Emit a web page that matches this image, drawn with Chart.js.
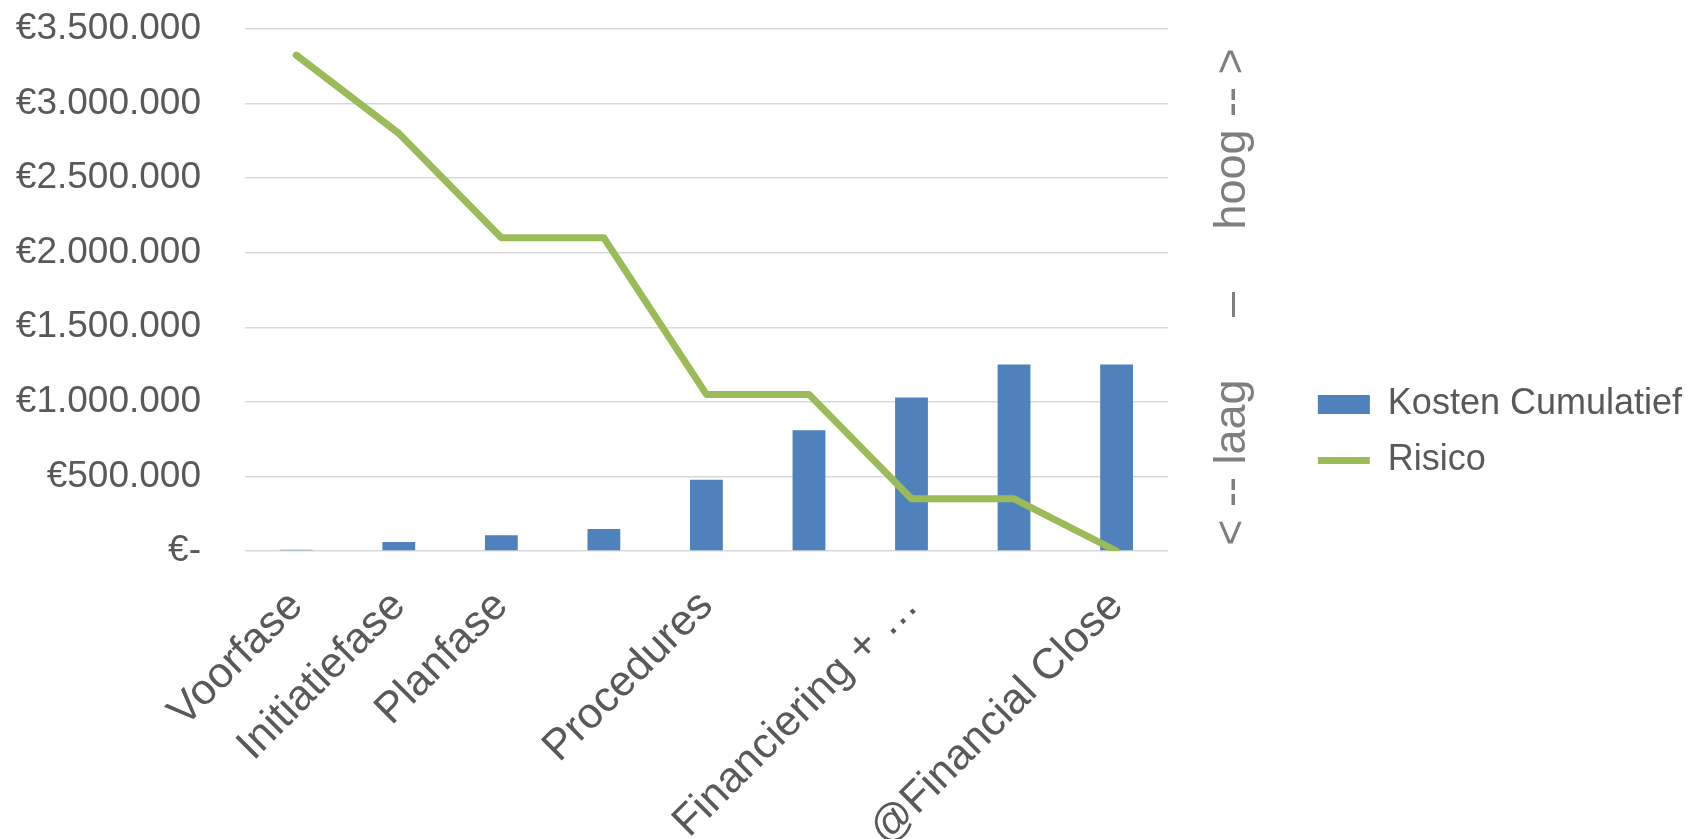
<!DOCTYPE html>
<html>
<head>
<meta charset="utf-8">
<script src="https://cdn.jsdelivr.net/npm/chart.js@4.4.1/dist/chart.umd.min.js"></script>
<style>
  html, body { margin: 0; padding: 0; background: #fff; }
  #wrap { width: 1692px; height: 839px; }
</style>
</head>
<body>
<div id="wrap"><canvas id="chart"></canvas></div>
<script>
const phases = ['Voorfase', 'Initiatiefase', 'Planfase', '', 'Procedures', '', 'Financiering + …', '', '@Financial Close'];
const kostenCumulatief = [8000, 60000, 105000, 148000, 478000, 810000, 1030000, 1250000, 1250000];
const risico = [95, 80, 60, 60, 30, 30, 10, 10, 0];
const risicoTitle = '< -- laag     –     hoog -- >';

const FONT = "'Liberation Sans', Arial, sans-serif";
const textColor = '#595959';

function euro(v) {
    if (v === 0) return '€-';
    return '€' + String(v).replace(/\B(?=(\d{3})+(?!\d))/g, '.');
}

// vertical title right of the plot, reading bottom to top
const rightTitle = {
    id: 'rightTitle',
    afterDraw(chart) {
        const a = chart.chartArea, ctx = chart.ctx;
        ctx.save();
        ctx.translate(a.right + 77, (a.top + a.bottom) / 2 + 7);
        ctx.rotate(-Math.PI / 2);
        ctx.font = '45px ' + FONT;
        ctx.fillStyle = '#7f7f7f';
        ctx.textAlign = 'center';
        ctx.textBaseline = 'alphabetic';
        ctx.fillText(risicoTitle, 0, 0);
        ctx.restore();
    }
};

new Chart(document.getElementById('chart'), {
    data: {
        labels: phases,
        datasets: [{
            type: 'bar',
            label: 'Kosten Cumulatief',
            data: kostenCumulatief,
            backgroundColor: '#4f81bd',
            barPercentage: 0.32,
            categoryPercentage: 1,
            pointStyle: 'rect',
            order: 1,
            yAxisID: 'y'
        }, {
            type: 'line',
            label: 'Risico',
            data: risico,
            borderColor: '#9bbb59',
            backgroundColor: '#9bbb59',
            borderWidth: 7,
            borderCapStyle: 'round',
            borderJoinStyle: 'round',
            pointRadius: 0,
            pointStyle: 'line',
            tension: 0,
            fill: false,
            order: 0,
            yAxisID: 'y1'
        }]
    },
    options: {
        responsive: true,
        maintainAspectRatio: false,
        animation: false,
        devicePixelRatio: 1,
        layout: { padding: { top: 26 } },
        scales: {
            x: {
                offset: true,
                grid: { display: false },
                border: { display: false },
                ticks: { autoSkip: false, maxRotation: 45, minRotation: 45, padding: 22, color: textColor, font: { family: FONT, size: 43 } },
                afterFit(s) { s.height = 288; }
            },
            y: {
                min: 0, max: 3500000,
                border: { display: false },
                grid: { color: '#d9d9d9', lineWidth: 1.5, drawTicks: false },
                ticks: { stepSize: 500000, padding: 44, color: textColor, font: { family: FONT, size: 37 }, callback: v => euro(v) },
                afterFit(s) { s.width = 245; s.paddingTop = 29; s.paddingBottom = 0; }
            },
            y1: {
                position: 'right',
                min: 0, max: 100,
                grid: { display: false },
                border: { display: false },
                ticks: { display: false },
                afterFit(s) { s.width = 130; }
            }
        },
        plugins: {
            tooltip: { enabled: false },
            legend: {
                position: 'right',
                maxWidth: 420,
                labels: {
                    usePointStyle: true,
                    pointStyleWidth: 52,
                    boxHeight: 19,
                    padding: 20,
                    color: textColor,
                    font: { family: FONT, size: 36 },
                    sort: (a, b) => a.datasetIndex - b.datasetIndex
                }
            }
        }
    },
    plugins: [rightTitle]
});
</script>
</body>
</html>
